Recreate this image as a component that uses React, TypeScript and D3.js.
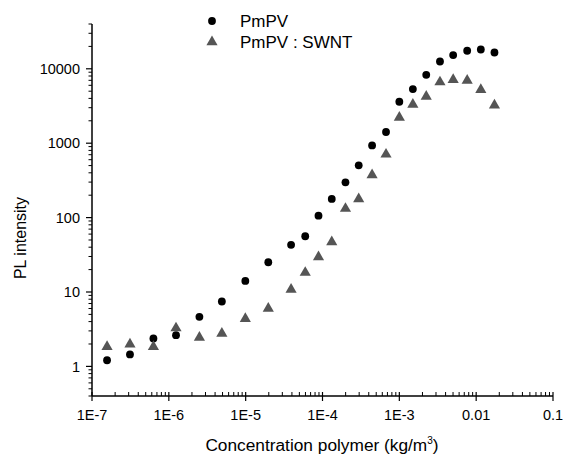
import React from "react";
import * as d3 from "d3";

const conc = [1.57e-7, 3.12e-7, 6.3e-7, 1.24e-6, 2.5e-6, 4.9e-6, 9.9e-6, 1.97e-5, 3.9e-5, 5.96e-5, 8.87e-5, 1.32e-4, 1.99e-4, 2.96e-4, 4.42e-4, 6.71e-4, 1.0e-3, 1.5e-3, 2.24e-3, 3.38e-3, 5.02e-3, 7.64e-3, 1.15e-2, 1.73e-2];
const pmpv = [1.21, 1.45, 2.38, 2.63, 4.64, 7.45, 14.1, 25.1, 43, 56.1, 106, 178, 298, 504, 934, 1414, 3606, 5345, 8300, 12530, 15280, 17470, 18160, 16560];
const pmpvSwnt = [1.84, 1.99, 1.84, 3.27, 2.45, 2.77, 4.37, 6.01, 10.8, 18.2, 29.5, 46.9, 132, 178, 374, 708, 2213, 3318, 4250, 6620, 7110, 6960, 5225, 3236];
const xTicks = [1e-7, 1e-6, 1e-5, 1e-4, 1e-3, 0.01, 0.1];
const xTickLabels = ["1E-7", "1E-6", "1E-5", "1E-4", "1E-3", "0.01", "0.1"];
const yTicks = [1, 10, 100, 1000, 10000];
const yTickLabels = ["1", "10", "100", "1000", "10000"];
const seriesNames = ["PmPV", "PmPV : SWNT"];

const W = 563, H = 455;
const FONT = "'Liberation Sans', Arial, sans-serif";

export default function App() {
  const x = d3.scaleLog().domain([1e-7, 0.1]).range([92, 553]);
  const y = d3.scaleLog().domain([0.4, 40000]).range([396, 24]);
  const [x0, x1] = x.range();
  const [y0, y1] = y.range();

  const xMinor: number[] = [];
  for (let e = -7; e < -1; e++) for (let m = 2; m <= 9; m++) xMinor.push(m * Math.pow(10, e));
  const yMinor: number[] = [];
  for (let e = -1; e <= 4; e++) for (let m = 2; m <= 9; m++) {
    const v = m * Math.pow(10, e);
    if (v >= 0.4 && v <= 40000) yMinor.push(v);
  }
  const tri = d3.symbol().type(d3.symbolTriangle).size(54)();
  const gray = "#555555";

  return (
    <svg width={W} height={H} style={{ position: "absolute", left: 0, top: 0, background: "#fff" }} fontFamily={FONT}>
      <rect width={W} height={H} fill="#fff" />
      <line x1={x0} x2={x1} y1={y0} y2={y0} stroke="#000" strokeWidth={1.5} />
      <line x1={x0} x2={x0} y1={y0} y2={y1} stroke="#000" strokeWidth={1.5} />
      {xTicks.map((t, i) => (
        <g key={"xt" + i}>
          <line x1={x(t)} x2={x(t)} y1={y0 - 4} y2={y0 + 5} stroke="#000" strokeWidth={1.2} />
          <text x={x(t)} y={420} textAnchor="middle" fontSize={14.5}>{xTickLabels[i]}</text>
        </g>
      ))}
      {xMinor.map((t, i) => (
        <line key={"xm" + i} x1={x(t)} x2={x(t)} y1={y0 - 4} y2={y0} stroke="#000" strokeWidth={1} />
      ))}
      {yTicks.map((t, i) => (
        <g key={"yt" + i}>
          <line x1={x0 - 6} x2={x0} y1={y(t)} y2={y(t)} stroke="#000" strokeWidth={1.2} />
          <text x={80} y={y(t)} dy="0.36em" textAnchor="end" fontSize={14.5}>{yTickLabels[i]}</text>
        </g>
      ))}
      {yMinor.map((t, i) => (
        <line key={"ym" + i} x1={x0 - 3.5} x2={x0} y1={y(t)} y2={y(t)} stroke="#000" strokeWidth={1} />
      ))}
      <text x={322} y={451} textAnchor="middle" fontSize={17.3}>
        Concentration polymer (kg/m<tspan dy={-7} fontSize={10}>3</tspan><tspan dy={7}>)</tspan>
      </text>
      <text transform="translate(26,238) rotate(-90)" textAnchor="middle" fontSize={16}>PL intensity</text>
      {conc.map((c, i) => (
        <circle key={"c" + i} cx={x(c)} cy={y(pmpv[i])} r={3.9} fill="#000" />
      ))}
      {conc.map((c, i) => (
        <path key={"t" + i} d={tri!} transform={`translate(${x(c)},${y(pmpvSwnt[i])})`} fill={gray} />
      ))}
      <circle cx={212} cy={21} r={3.9} fill="#000" />
      <text x={240} y={27} fontSize={17}>{seriesNames[0]}</text>
      <path d={tri!} transform="translate(212,42)" fill={gray} />
      <text x={240} y={47.5} fontSize={17}>{seriesNames[1]}</text>
    </svg>
  );
}
